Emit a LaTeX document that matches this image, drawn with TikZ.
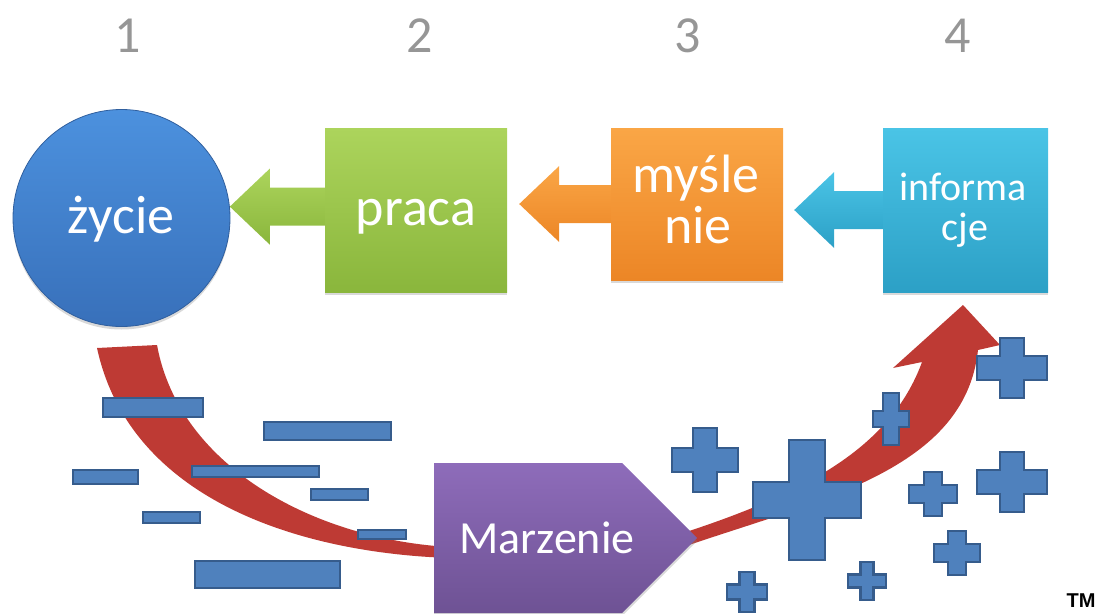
\documentclass[tikz,border=0pt]{standalone}
\usepackage{fontspec}
\setmainfont{Carlito}
\newfontfamily\tmfont{Liberation Sans}
\usetikzlibrary{calc,shadows}
\definecolor{circT}{RGB}{76,145,222}
\definecolor{circB}{RGB}{56,112,186}
\definecolor{grnT}{RGB}{172,212,92}
\definecolor{grnB}{RGB}{138,182,60}
\definecolor{orgT}{RGB}{250,166,70}
\definecolor{orgB}{RGB}{236,134,38}
\definecolor{cyaT}{RGB}{74,196,230}
\definecolor{cyaB}{RGB}{44,160,198}
\definecolor{purT}{RGB}{142,108,186}
\definecolor{purB}{RGB}{110,82,148}
\definecolor{redarr}{RGB}{190,58,52}
\definecolor{barfill}{RGB}{79,129,189}
\definecolor{bardraw}{RGB}{54,92,140}
\definecolor{digit}{RGB}{150,150,150}
\pgfdeclarelayer{background}
\pgfsetlayers{background,main}
\tikzset{
  boxshadow/.style={drop shadow={opacity=0.3,shadow xshift=0pt,shadow yshift=-3pt}},
  bigtext/.style={text=white,font=\fontsize{54}{62}\selectfont,anchor=base,inner sep=0pt},
  smalltext/.style={text=white,font=\fontsize{40}{48}\selectfont,anchor=base,inner sep=0pt},
  digitlbl/.style={text=digit,font=\fontsize{52}{60}\selectfont,anchor=base,inner sep=0pt},
  bar/.style={fill=barfill,draw=bardraw,line width=2.5pt},
  redband/.style={fill=redarr},
}
\newcommand\blockarrow[4]{%
  \coordinate (t) at (#1);
  \coordinate (s) at (#2.center |- t);
  \shade[top color=#3,bottom color=#4] (t) -- ($(t)+(40,-38)$) -- ($(t)+(40,-19)$) -- ($(s)+(0,-19)$) -- ($(s)+(0,19)$) -- ($(t)+(40,19)$) -- ($(t)+(40,38)$) -- cycle;
}
\newcommand\plusat[5]{%
  \draw[bar] (#1-#5,#2-#4) -- (#1+#5,#2-#4) -- (#1+#5,#2-#5) -- (#1+#3,#2-#5) -- (#1+#3,#2+#5) -- (#1+#5,#2+#5) -- (#1+#5,#2+#4) -- (#1-#5,#2+#4) -- (#1-#5,#2+#5) -- (#1-#3,#2+#5) -- (#1-#3,#2-#5) -- (#1-#5,#2-#5) -- cycle;
}
\begin{document}
\begin{tikzpicture}[x=1pt,y=-1pt]
\useasboundingbox (0,0) rectangle (1097,613);

% digits
\node[digitlbl] (d1) at (128,52) {1};
\node[digitlbl] (d2) at (420,52) {2};
\node[digitlbl] (d3) at (688,52) {3};
\node[digitlbl] (d4) at (958,52) {4};

% main nodes
\node[circle,minimum size=217pt,inner sep=0pt,top color=circT,bottom color=circB,draw=circB!85!black,line width=0.8pt,boxshadow] (zycie) at (121.5,218) {};
\node[rectangle,minimum width=182pt,minimum height=164pt,inner sep=0pt,top color=grnT,bottom color=grnB,boxshadow] (praca) at (416,210) {};
\node[rectangle,minimum width=172pt,minimum height=152pt,inner sep=0pt,top color=orgT,bottom color=orgB,boxshadow] (myslenie) at (697,204) {};
\node[rectangle,minimum width=165pt,minimum height=164pt,inner sep=0pt,top color=cyaT,bottom color=cyaB,boxshadow] (informacje) at (965.5,210) {};

\node[bigtext] (tz) at (121,233) {życie};
\node[bigtext] (tp) at (416,225) {praca};
\node[bigtext] (tm1) at (696,192) {myśle};
\node[bigtext] (tm2) at (698,243) {nie};
\node[smalltext] (ti1) at (963,200) {informa};
\node[smalltext] (ti2) at (965,240) {cje};

% block arrows
\begin{pgfonlayer}{background}
\blockarrow{zycie.6}{praca}{grnT}{grnB}
\blockarrow{$(praca.east)+(12,-6)$}{myslenie}{orgT}{orgB}
\blockarrow{$(myslenie.east)+(11,6)$}{informacje}{cyaT}{cyaB}

% red curved arrows
\fill[redband] (97,348) -- (157,345) .. controls (180,470) and (320,540) .. (450,547) -- (450,558) .. controls (300,553) and (130,500) .. (97,348) -- cycle;
\fill[redband] (680,534) .. controls (800,495) and (890,450) .. (922,362) -- (893,368) -- (963,305) -- (1000,345) -- (978,350) .. controls (965,470) and (820,500) .. (680,548) -- cycle;
\end{pgfonlayer}

% minus bars
\draw[bar] (103,398) rectangle (203,417);
\draw[bar] (264,422) rectangle (391,440);
\draw[bar] (73,470) rectangle (138,484);
\draw[bar] (192,466) rectangle (319,477);
\draw[bar] (311,489) rectangle (368,500);
\draw[bar] (143,512) rectangle (200,523);
\draw[bar] (358,530) rectangle (406,539);
\draw[bar] (195,561) rectangle (340,588);

% Marzenie
\shade[top color=purT,bottom color=purB,boxshadow] (434,463) -- (622,463) -- (697,538) -- (622,613) -- (434,613) -- cycle;
\node[text=white,font=\fontsize{46}{52}\selectfont,anchor=base,inner sep=0pt] (marzenie) at (547,553) {Marzenie};

% plus signs
\plusat{705}{460}{33}{32}{12}
\plusat{807}{500}{54}{60}{18}
\plusat{891}{419}{18}{26}{8}
\plusat{1012}{368}{35}{30}{12}
\plusat{1012}{482}{35}{30}{12}
\plusat{933}{494}{24}{22}{9}
\plusat{957}{553}{23}{22}{9}
\plusat{867}{581}{19}{19}{6.5}
\plusat{747}{592}{20}{20}{7.5}

\node[font=\tmfont\bfseries\fontsize{20}{22}\selectfont,anchor=base,inner sep=0pt] (tm) at (1081,607) {TM};
\end{tikzpicture}
\end{document}
